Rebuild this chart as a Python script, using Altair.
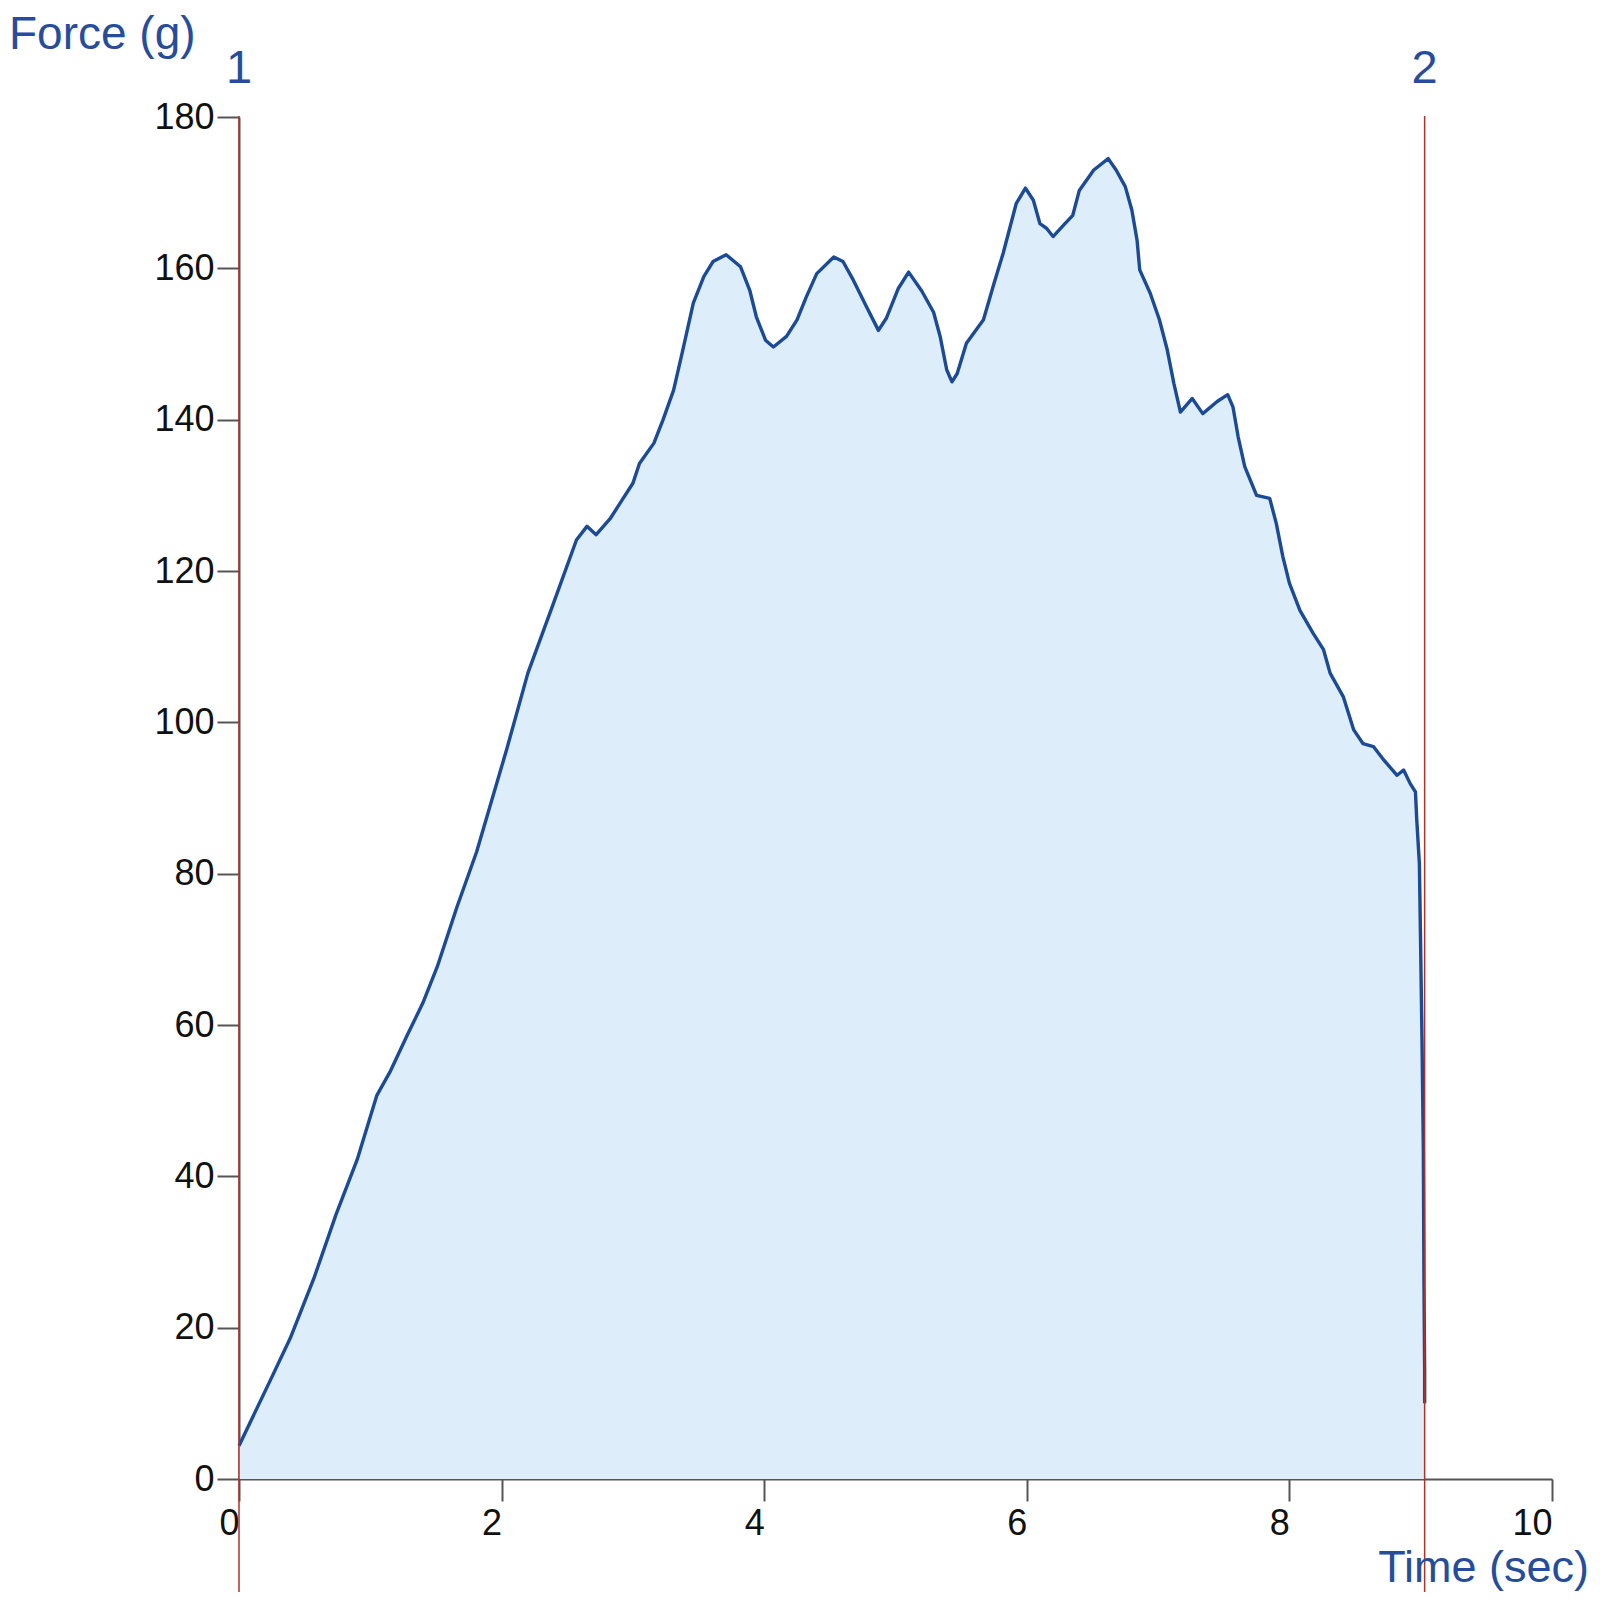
import altair as alt
import pandas as pd

# Force curve (time in s, force in g)
time_s = [0.0, 0.24, 0.39, 0.57, 0.74, 0.90, 1.05, 1.15, 1.28, 1.40, 1.51, 1.66, 1.81, 2.04,
          2.20, 2.39, 2.57, 2.65, 2.72, 2.83, 2.90, 3.00, 3.05, 3.16, 3.23, 3.31, 3.38, 3.46,
          3.54, 3.61, 3.71, 3.82, 3.89, 3.94, 4.01, 4.07, 4.17, 4.25, 4.32, 4.40, 4.53, 4.60,
          4.68, 4.78, 4.87, 4.93, 5.02, 5.10, 5.20, 5.29, 5.34, 5.39, 5.43, 5.47, 5.54, 5.67,
          5.75, 5.82, 5.92, 5.99, 6.05, 6.10, 6.15, 6.20, 6.28, 6.35, 6.40, 6.51, 6.62, 6.68,
          6.75, 6.80, 6.84, 6.86, 6.94, 7.01, 7.07, 7.12, 7.17, 7.26, 7.34, 7.45, 7.53, 7.57,
          7.61, 7.66, 7.75, 7.85, 7.90, 7.95, 8.00, 8.08, 8.18, 8.26, 8.31, 8.41, 8.49, 8.56,
          8.64, 8.72, 8.82, 8.87, 8.92, 8.96, 8.97, 8.99, 9.00, 9.01, 9.02, 9.025, 9.03, 9.03]
force_g = [4.4, 13.1, 18.6, 26.5, 35.0, 42.2, 50.7, 53.8, 58.6, 62.9, 67.7, 75.6, 82.9, 96.5,
           106.5, 115.5, 124.1, 125.9, 124.8, 127.0, 128.9, 131.6, 134.2, 136.9, 140.0, 143.9, 149.2, 155.4,
           158.9, 160.9, 161.8, 160.2, 157.1, 153.6, 150.5, 149.6, 151.0, 153.2, 156.2, 159.3, 161.5, 160.9,
           158.4, 154.9, 151.8, 153.4, 157.3, 159.5, 157.0, 154.2, 151.0, 146.6, 145.0, 146.1, 150.1, 153.2,
           158.0, 162.0, 168.6, 170.6, 169.0, 165.9, 165.3, 164.2, 165.7, 167.0, 170.3, 173.0, 174.5, 173.0,
           170.8, 167.7, 163.7, 159.8, 156.7, 153.2, 149.2, 144.8, 141.0, 142.8, 140.8, 142.4, 143.3, 141.7,
           137.7, 133.8, 130.0, 129.6, 126.3, 121.9, 118.4, 114.8, 111.8, 109.6, 106.5, 103.4, 99.0, 97.2,
           96.8, 95.0, 93.0, 93.7, 91.9, 90.8, 87.1, 81.3, 69.8, 57.9, 43.6, 25.6, 14.4, 10.0]

marker_times = [0.0, 9.03]
marker_labels = ["1", "2"]
x_ticks = [0, 2, 4, 6, 8, 10]
y_ticks = [0, 20, 40, 60, 80, 100, 120, 140, 160, 180]

BLUE_TEXT = "#264D9B"
LINE_BLUE = "#1B4A96"
FILL_BLUE = "#DEEDFA"
RED = "#B0302C"
FONT = "Liberation Sans"

curve = pd.DataFrame({"t": time_s, "f": force_g})
markers = pd.DataFrame({"t": marker_times, "label": marker_labels})

x_scale = alt.Scale(domain=[0, 10], nice=False, zero=True)
y_scale = alt.Scale(domain=[0, 180], nice=False, zero=True)

x_axis = alt.Axis(values=x_ticks, format="d", title=None, grid=False, labelFontSize=36,
                  labelFont=FONT, labelColor="#111111", labelAlign="right", labelPadding=5,
                  tickSize=22, tickWidth=2, tickColor="#555555", domainColor="#555555",
                  domainWidth=2, labelFlush=False, labelOverlap=False)
y_axis = alt.Axis(values=y_ticks, format="d", title=None, grid=False, labelFontSize=36,
                  labelFont=FONT, labelColor="#111111", labelPadding=3, tickSize=22,
                  tickWidth=2, tickColor="#555555", domainColor="#555555", domainWidth=2,
                  labelFlush=False, labelOverlap=False)

base = alt.Chart(curve)

area = base.mark_area(color=FILL_BLUE, opacity=1).encode(
    x=alt.X("t:Q", scale=x_scale, axis=x_axis),
    y=alt.Y("f:Q", scale=y_scale, axis=y_axis),
)
line = base.mark_line(color=LINE_BLUE, strokeWidth=3.4, strokeJoin="round").encode(
    x=alt.X("t:Q", scale=x_scale),
    y=alt.Y("f:Q", scale=y_scale),
)

rules = alt.Chart(markers).mark_rule(color=RED, strokeWidth=1.5).encode(
    x=alt.X("t:Q", scale=x_scale),
    y=alt.value(-1),
    y2=alt.value(1480),
)
marker_text = alt.Chart(markers).mark_text(
    font=FONT, fontSize=47, color=BLUE_TEXT, align="center", baseline="alphabetic"
).encode(
    x=alt.X("t:Q", scale=x_scale),
    y=alt.value(-34),
    text="label:N",
)

force_title = alt.Chart(pd.DataFrame({"txt": ["Force (g)"]})).mark_text(
    font=FONT, fontSize=46, color=BLUE_TEXT, align="left", baseline="alphabetic"
).encode(x=alt.value(-230), y=alt.value(-68), text="txt:N")

time_title = alt.Chart(pd.DataFrame({"txt": ["Time (sec)"]})).mark_text(
    font=FONT, fontSize=45, color=BLUE_TEXT, align="right", baseline="alphabetic"
).encode(x=alt.value(1350), y=alt.value(1465), text="txt:N")

chart = alt.layer(area, line, rules, marker_text, force_title, time_title).properties(
    width=1313,
    height=1362,
    autosize=alt.AutoSizeParams(type="none"),
    padding={"left": 231, "top": 109, "right": 40, "bottom": 113},
    background="white",
).configure_view(stroke=None)

chart.save("out.html", embed_options={"renderer": "svg", "actions": False})
